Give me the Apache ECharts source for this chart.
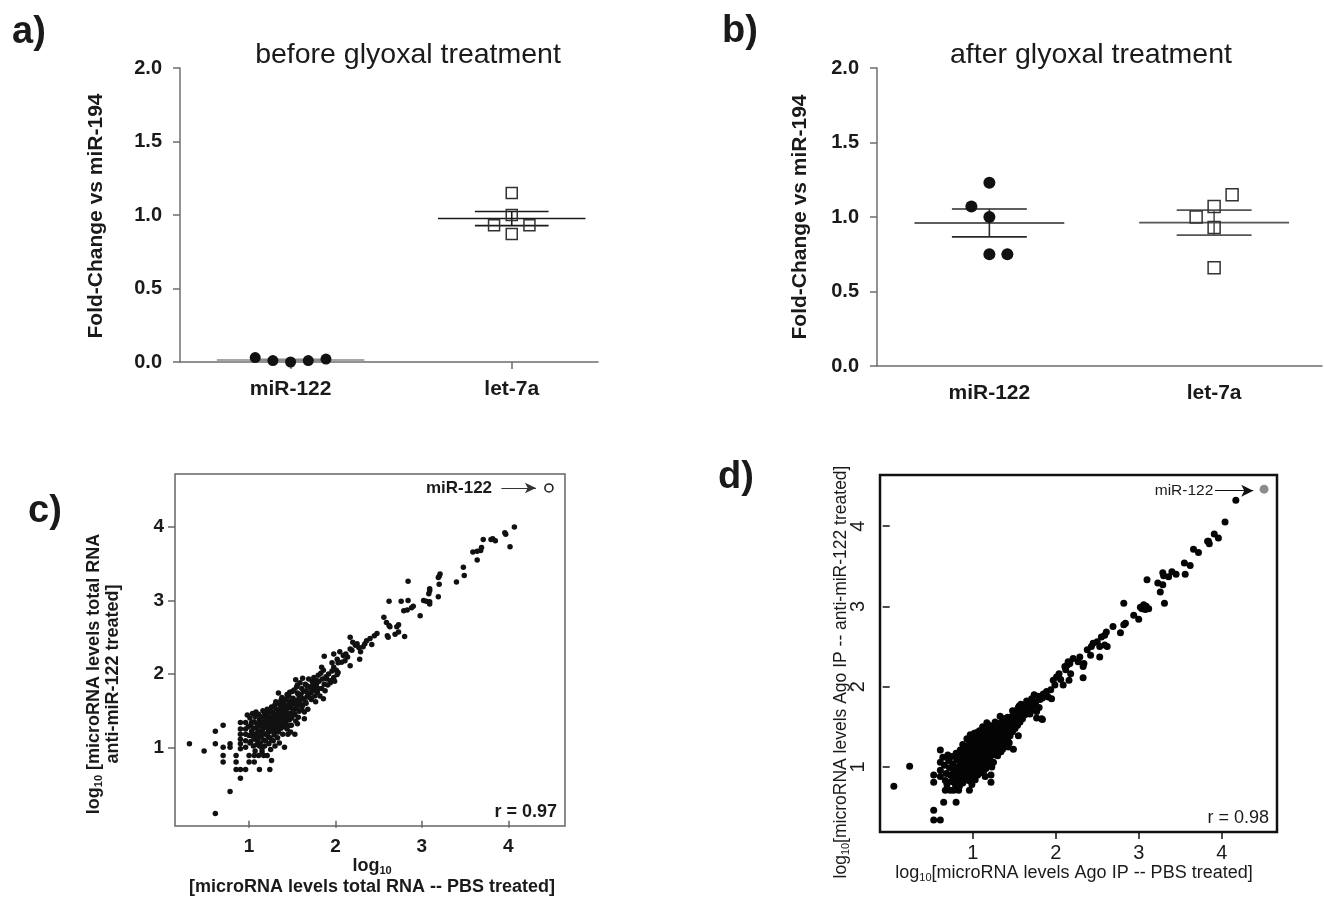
<!DOCTYPE html>
<html>
<head>
<meta charset="utf-8">
<script src="https://cdn.jsdelivr.net/npm/echarts@6/dist/echarts.min.js"></script>
<style>
  html, body { margin: 0; padding: 0; background: #fff; }
  #chart { width: 1324px; height: 898px; }
</style>
</head>
<body>
<div id="chart"></div>
<script>
const FONT = '"Liberation Sans", Arial, Helvetica, sans-serif'

// panels a/b: fold-change vs miR-194
const groups = ['miR-122', 'let-7a']
const beforeMiR122 = [0.03, 0.01, 0.0, 0.01, 0.02]
const beforeMiR122Jit = [-0.16, -0.08, 0, 0.08, 0.16]
const beforeLet7a = [1.15, 1.0, 0.93, 0.93, 0.87]
const beforeLet7aJit = [0, 0, -0.08, 0.08, 0]
const afterMiR122 = [1.23, 1.07, 1.0, 0.75, 0.75]
const afterMiR122Jit = [0, -0.08, 0, 0, 0.08]
const afterLet7a = [1.15, 1.07, 1.0, 0.93, 0.66]
const afterLet7aJit = [0.08, 0, -0.08, 0, 0]

// panel c: log10 total RNA, PBS (x) vs anti-miR-122 (y)
const logTicks = [1, 2, 3, 4]
const totalRnaMiR122 = [4.47, 4.53]
const totalRnaUpper = [
  [4.07,4.00],[3.96,3.92],[3.97,3.90],[4.02,3.73],[3.82,3.84],[3.85,3.81],[3.80,3.83],[3.71,3.83],
  [3.69,3.72],[3.68,3.68],[3.64,3.67],[3.59,3.66],[3.64,3.55],[3.48,3.45],[3.49,3.34],[3.40,3.25],
  [3.21,3.36],[3.20,3.33],[3.19,3.31],[3.20,3.22],[3.09,3.16],[3.09,3.13],[3.08,3.09],[3.19,3.05],
  [3.09,2.98],[3.09,2.95],[3.02,3.00],[3.05,2.99],[2.84,3.26],[2.62,2.99],[2.76,2.99],[2.84,3.00],
  [2.79,2.86],[2.88,2.90],[2.90,2.92],[2.83,2.87],[2.98,2.79],[2.56,2.77],[2.59,2.70],[2.62,2.66],
  [2.63,2.64],[2.73,2.67],[2.71,2.64],[2.60,2.52],[2.61,2.50],[2.73,2.57],[2.80,2.51],[2.69,2.54],
  [2.45,2.52],[2.48,2.55],[2.40,2.48],[2.42,2.40],[2.36,2.45],[2.34,2.41],[2.32,2.37],[2.17,2.50],
  [2.20,2.43],[2.23,2.39],[2.25,2.41],[2.27,2.36],[2.17,2.34],[2.19,2.32],[2.17,2.11],[2.29,2.30],
  [2.28,2.20],[2.05,2.30],[2.09,2.25],[2.12,2.27],[2.14,2.23],[2.11,2.18],[2.07,2.16],[1.98,2.27],
  [2.02,2.20],[2.03,2.15],[1.87,2.24],[1.96,2.15],[1.98,2.09],[2.01,2.05],[2.03,2.02],[2.02,1.99],
  [1.98,1.95],[1.95,1.91],[1.84,2.09],[1.86,2.05],[1.83,2.01],[1.80,1.98],[1.85,1.93],[1.87,1.86],
  [1.90,1.93],[1.75,1.95],[1.78,1.91],[1.76,1.86],[1.73,1.82],[1.74,1.77],[1.80,1.80]
]
const totalRnaLower = [
  [0.31,1.05],[0.48,0.95],[0.61,1.22],[0.61,1.05],[0.70,1.30],[0.70,1.00],[0.70,0.89],[0.70,0.80],
  [0.61,0.10],[0.78,0.40],[0.90,0.58],[0.85,0.70],[0.90,0.70],[0.96,0.70],[1.12,0.70],[1.24,0.70],
  [0.78,1.05],[0.78,1.00],[0.85,0.89],[0.85,0.80],[0.90,1.34],[0.90,1.25],[0.90,1.18],[0.90,1.11],
  [0.90,1.05],[0.90,0.98],[0.96,1.34],[0.96,1.25],[0.96,1.18],[0.96,1.09],[0.96,1.00],[1.00,0.89],
  [1.06,0.89],[1.11,0.89],[1.17,0.89],[1.21,0.89],[1.00,0.80],[1.06,0.80],[1.26,0.82],[1.41,1.00]
]
const totalRnaCluster = [
  [1.01,1.40],[1.02,1.30],[1.03,1.22],[1.04,1.15],[1.02,1.08],[1.05,1.02],[1.07,0.95],[1.08,1.48],
  [1.06,1.35],[1.09,1.26],[1.08,1.18],[1.10,1.10],[1.09,1.04],[1.04,1.46],[1.07,1.11],
  [1.11,1.45],[1.12,1.38],[1.13,1.30],[1.12,1.22],[1.14,1.15],[1.13,1.06],[1.15,0.98],[1.16,1.50],
  [1.17,1.41],[1.18,1.33],[1.16,1.25],[1.19,1.18],[1.17,1.10],[1.18,1.02],[1.15,0.94],[1.20,1.47],
  [1.19,1.29],[1.14,1.35],
  [1.21,1.52],[1.22,1.44],[1.21,1.36],[1.23,1.28],[1.22,1.21],[1.24,1.13],[1.23,1.05],[1.25,0.97],
  [1.26,1.55],[1.27,1.48],[1.26,1.40],[1.28,1.32],[1.27,1.24],[1.29,1.17],[1.28,1.09],[1.30,1.58],
  [1.29,1.38],[1.25,1.30],[1.30,1.02],
  [1.31,1.62],[1.32,1.52],[1.31,1.45],[1.33,1.37],[1.32,1.29],[1.34,1.21],[1.33,1.13],[1.35,1.06],
  [1.36,1.58],[1.37,1.50],[1.36,1.42],[1.38,1.34],[1.37,1.26],[1.39,1.18],[1.38,1.68],[1.40,1.55],
  [1.39,1.46],[1.35,1.32],[1.34,1.74],
  [1.41,1.64],[1.42,1.57],[1.41,1.49],[1.43,1.41],[1.42,1.33],[1.44,1.25],[1.45,1.18],[1.46,1.70],
  [1.47,1.62],[1.46,1.54],[1.48,1.46],[1.47,1.38],[1.49,1.30],[1.50,1.76],[1.49,1.58],[1.45,1.45],
  [1.44,1.72],[1.48,1.21],
  [1.51,1.67],[1.52,1.60],[1.53,1.52],[1.52,1.44],[1.54,1.36],[1.55,1.82],[1.56,1.74],[1.57,1.65],
  [1.56,1.57],[1.58,1.49],[1.57,1.41],[1.59,1.88],[1.60,1.72],[1.59,1.60],[1.54,1.92],[1.53,1.18],
  [1.56,1.32],
  [1.61,1.80],[1.62,1.94],[1.63,1.66],[1.62,1.57],[1.64,1.48],[1.65,1.86],[1.66,1.77],[1.67,1.69],
  [1.66,1.60],[1.68,1.52],[1.69,1.93],[1.70,1.82],[1.64,1.39],
  [1.71,1.74],[1.72,1.65],[1.73,1.90],[1.75,1.79],[1.76,1.70],[1.77,1.62],[1.78,1.86],[1.79,1.75],
  [1.81,1.90],[1.82,1.70],[1.84,1.80],[1.86,1.66],[1.88,1.77],[1.89,1.96],
  [1.91,1.85],[1.92,2.00],[1.94,1.88],[1.96,2.04],[1.99,1.90]
]
const totalRnaCore = [
  [0.98,1.44],[0.99,1.28],[1.00,1.16],[1.01,1.06],[1.03,1.34],[1.05,1.26],[1.06,1.18],[1.07,1.42],
  [1.09,1.32],[1.10,1.20],[1.11,1.13],[1.12,1.02],[1.13,1.42],[1.15,1.28],[1.16,1.19],[1.17,1.34],
  [1.18,1.46],[1.19,1.09],[1.20,1.38],[1.21,1.27],[1.22,1.15],[1.23,1.40],[1.24,1.33],[1.24,1.49],
  [1.25,1.22],[1.26,1.10],[1.27,1.35],[1.28,1.44],[1.28,1.55],[1.29,1.28],[1.30,1.20],[1.31,1.35],
  [1.32,1.43],[1.32,1.60],[1.33,1.24],[1.34,1.48],[1.35,1.40],[1.36,1.30],[1.37,1.55],[1.37,1.64],
  [1.38,1.42],[1.39,1.30],[1.40,1.37],[1.40,1.62],[1.41,1.28],[1.42,1.45],[1.43,1.52],[1.43,1.66],
  [1.44,1.37],[1.45,1.58],[1.46,1.46],[1.47,1.30],[1.47,1.75],[1.48,1.54],[1.49,1.40],[1.50,1.66],
  [1.51,1.52],[1.52,1.78],[1.53,1.45],[1.54,1.62],[1.55,1.55],[1.56,1.85],[1.57,1.72],[1.58,1.58],
  [1.60,1.66],[1.61,1.52],[1.63,1.76],[1.65,1.62],[1.67,1.84],[1.68,1.74],[1.70,1.68],[1.72,1.80],
  [1.74,1.86],[1.77,1.80]
]

// panel d: log10 Ago IP, PBS (x) vs anti-miR-122 (y)
const agoMiR122 = [4.51, 4.46]
const agoUpper = [
  [4.17,4.32],[4.04,4.05],[3.96,3.85],[3.91,3.90],[3.84,3.81],[3.85,3.78],[3.83,3.81],[3.72,3.67],
  [3.66,3.71],[3.62,3.51],[3.55,3.54],[3.56,3.40],[3.45,3.40],[3.40,3.43],[3.36,3.37],[3.29,3.42],
  [3.30,3.38],[3.23,3.29],[3.29,3.27],[3.26,3.18],[3.31,3.04],[3.10,3.33],[3.06,3.02],[3.09,3.00],
  [3.12,2.97],[3.08,2.96],[3.04,2.97],[3.02,2.99],[3.00,2.84],[2.94,2.89],[2.82,3.04],[2.84,2.79],
  [2.82,2.77],[2.78,2.67],[2.69,2.75],[2.61,2.68],[2.59,2.64],[2.55,2.62],[2.62,2.50],[2.59,2.52],
  [2.53,2.50],[2.50,2.56],[2.45,2.54],[2.43,2.50],[2.38,2.46],[2.42,2.39],[2.53,2.37],[2.29,2.37],
  [2.27,2.31],[2.34,2.29],[2.33,2.25],[2.33,2.11],[2.21,2.35],[2.17,2.29],[2.14,2.27],[2.11,2.25],
  [2.15,2.31],[2.12,2.21],[2.18,2.16],[2.16,2.08],[2.04,2.16],[2.01,2.12],[1.97,2.08],[1.99,2.02],
  [2.06,2.09],[2.09,2.02],[1.94,1.96],[1.89,1.94],[1.85,1.91],[1.84,1.86],[1.91,1.87],[1.95,1.85],
  [1.83,1.60],[1.81,1.84],[1.76,1.81],[1.73,1.77],[1.70,1.75],[1.72,1.71],[1.77,1.69],[1.67,1.69],
  [1.77,1.61],[1.84,1.59]
]
const agoLower = [
  [0.05,0.76],[0.24,1.01],[0.53,0.46],[0.53,0.34],[0.61,0.34],[0.65,0.56],[0.80,0.56],[0.53,0.90],
  [0.53,0.81],[0.61,1.21],[0.61,1.06],[0.61,0.96],[0.61,0.88],[0.67,0.71],[0.73,0.71],[0.77,0.71],
  [0.83,0.71],[0.96,0.71],[1.22,0.90],[1.22,0.81],[1.17,1.55],[1.49,1.22],[1.55,1.39],[1.43,1.25]
]
const agoCluster = [
  [0.64,1.12],[0.66,1.02],[0.68,0.92],[0.67,0.83],[0.70,1.15],[0.69,0.78],
  [0.71,1.08],[0.72,0.99],[0.73,0.90],[0.74,0.82],[0.75,1.13],[0.76,1.04],[0.77,0.95],[0.78,0.86],
  [0.79,0.78],[0.80,1.17],
  [0.81,1.09],[0.82,1.00],[0.83,0.92],[0.84,0.83],[0.85,1.21],[0.86,1.13],[0.87,1.04],[0.88,0.96],
  [0.89,0.87],[0.90,1.25],[0.84,0.76],[0.88,1.28],
  [0.91,1.17],[0.92,1.08],[0.93,1.00],[0.94,0.91],[0.95,0.83],[0.96,1.30],[0.97,1.21],[0.98,1.12],
  [0.99,1.04],[1.00,0.95],[0.93,1.35],[0.97,0.87],[0.99,0.78],
  [1.01,1.33],[1.02,1.25],[1.03,1.16],[1.04,1.07],[1.05,0.99],[1.06,0.90],[1.07,1.38],[1.08,1.29],
  [1.09,1.20],[1.10,1.11],[1.03,0.84],[1.08,1.02],[1.05,1.43],[1.10,0.93],[1.02,0.97],[1.06,1.22],
  [1.00,1.12],[1.04,1.30],
  [1.11,1.42],[1.12,1.33],[1.13,1.25],[1.14,1.16],[1.15,1.07],[1.16,0.98],[1.17,1.46],[1.18,1.37],
  [1.19,1.29],[1.20,1.20],[1.12,1.50],[1.15,0.88],[1.18,1.10],[1.14,1.02],[1.11,1.20],
  [1.21,1.42],[1.22,1.33],[1.23,1.24],[1.24,1.15],[1.25,1.06],[1.26,1.50],[1.27,1.41],[1.28,1.32],
  [1.29,1.23],[1.30,1.14],[1.23,1.00],[1.27,1.56],[1.25,1.36],
  [1.31,1.47],[1.32,1.38],[1.33,1.28],[1.34,1.19],[1.35,1.55],[1.36,1.46],[1.37,1.37],[1.38,1.28],
  [1.39,1.60],[1.40,1.51],[1.33,1.63],[1.36,1.22],
  [1.41,1.42],[1.42,1.33],[1.43,1.56],[1.44,1.48],[1.45,1.39],[1.46,1.62],[1.47,1.53],[1.48,1.44],
  [1.49,1.66],[1.50,1.57],[1.44,1.30],
  [1.51,1.48],[1.52,1.70],[1.53,1.61],[1.54,1.52],[1.55,1.74],[1.56,1.65],[1.57,1.56],[1.58,1.78],
  [1.59,1.69],[1.60,1.60],
  [1.62,1.74],[1.63,1.65],[1.65,1.82],[1.66,1.72],[1.68,1.80],[1.69,1.66],[1.71,1.85],[1.74,1.90],
  [1.79,1.88],[1.80,1.74]
]
const agoCore = [
  [0.78,1.00],[0.80,0.92],[0.82,1.14],[0.83,0.85],[0.85,1.05],[0.86,0.96],[0.87,1.18],[0.88,0.80],
  [0.89,1.10],[0.90,1.00],[0.91,0.90],[0.92,1.24],[0.93,1.14],[0.94,1.05],[0.95,0.96],[0.96,1.18],
  [0.97,1.40],[0.97,1.02],[0.98,0.92],[0.99,1.26],[1.00,1.36],[1.00,1.06],[1.01,0.88],[1.01,1.20],
  [1.02,1.42],[1.03,1.10],[1.04,0.94],[1.05,1.25],[1.06,1.05],[1.07,1.15],[1.07,0.96],[1.08,1.45],
  [1.09,1.35],[1.09,0.98],[1.10,1.26],[1.11,1.06],[1.12,1.16],[1.13,1.38],[1.13,0.94],[1.14,1.28],
  [1.15,1.48],[1.16,1.20],[1.16,1.10],[1.17,1.32],[1.18,1.02],[1.19,1.42],[1.19,1.14],[1.20,1.52],
  [1.21,1.26],[1.21,1.08],[1.22,1.38],[1.23,1.18],[1.24,1.46],[1.25,1.28],[1.26,1.20],[1.27,1.34],
  [1.28,1.48],[1.29,1.16],[1.30,1.40],[1.31,1.28],[1.32,1.54],[1.33,1.44],[1.34,1.34],[1.35,1.26],
  [1.36,1.60],[1.37,1.50],[1.38,1.40],[1.39,1.34],[1.41,1.54],[1.42,1.62],[1.43,1.44],[1.45,1.52],
  [1.47,1.60],[1.48,1.70],[1.50,1.64],[1.52,1.56],[1.54,1.66],[1.56,1.76],[1.58,1.64],[1.61,1.70],
  [1.64,1.78]
]

function meanSem (v) {
  const n = v.length
  const m = v.reduce((a, b) => a + b, 0) / n
  const sd = Math.sqrt(v.reduce((a, b) => a + (b - m) * (b - m), 0) / (n - 1))
  return [m, sd / Math.sqrt(n)]
}
const jitter = (vals, offs, center) => vals.map((v, i) => [center + offs[i], v])

// mean line (wide) + SEM lines (narrow) + connector
function statItem (params, api) {
  const cx = api.value(0), m = api.value(1), s = api.value(2)
  const color = api.visual('color')
  const seg = (x1, y1, x2, y2) => {
    const p1 = api.coord([x1, y1]), p2 = api.coord([x2, y2])
    return { type: 'line', shape: { x1: p1[0], y1: p1[1], x2: p2[0], y2: p2[1] },
      style: { stroke: color, lineWidth: 1.6 } }
  }
  return { type: 'group', children: [
    seg(cx - 1 / 3, m, cx + 1 / 3, m),
    seg(cx - 1 / 6, m + s, cx + 1 / 6, m + s),
    seg(cx - 1 / 6, m - s, cx + 1 / 6, m - s),
    seg(cx, m - s, cx, m + s)
  ] }
}
function statSeries (idx, a, b, colA, colB) {
  return {
    type: 'custom', xAxisIndex: idx, yAxisIndex: idx, renderItem: statItem, silent: true, z: 1,
    encode: { x: 0, y: 1 },
    data: [
      { value: [1].concat(meanSem(a)), itemStyle: { color: colA } },
      { value: [2].concat(meanSem(b)), itemStyle: { color: colB } }
    ]
  }
}

const grayAxis = { lineStyle: { color: '#6e6e6e', width: 1.5 } }
function foldYAxis (idx) {
  return {
    type: 'value', gridIndex: idx, min: 0, max: 2, interval: 0.5,
    axisLine: { show: true, ...grayAxis }, splitLine: { show: false },
    axisTick: { length: 7, ...grayAxis },
    axisLabel: { margin: 18, fontFamily: FONT, fontWeight: 'bold', fontSize: 20, color: '#1a1a1a',
      formatter: v => v.toFixed(1) }
  }
}
function groupXAxis (idx, max, ticks) {
  return {
    type: 'value', gridIndex: idx, min: 0.5, max: max,
    axisLine: { show: true, ...grayAxis }, splitLine: { show: false },
    axisTick: { show: ticks, length: 7, customValues: [1, 2], ...grayAxis },
    axisLabel: { customValues: [1, 2], margin: 17, fontFamily: FONT, fontWeight: 'bold', fontSize: 21,
      color: '#1a1a1a', formatter: v => groups[Math.round(v) - 1] || '' }
  }
}
function logAxis (idx, min, max, color, bold, rotate) {
  return {
    type: 'value', gridIndex: idx, min: min, max: max,
    axisLine: { show: false }, splitLine: { show: false },
    axisTick: { customValues: logTicks, length: 7, lineStyle: { color: color, width: 1.5 } },
    axisLabel: { customValues: logTicks, margin: rotate ? 12 : 11, rotate: rotate || 0,
      fontFamily: FONT, fontWeight: bold ? 'bold' : 'normal', fontSize: bold ? 19 : 20, color: '#1a1a1a' }
  }
}

const txt = (x, y, text, size, weight, extra) => ({
  type: 'text', x: x, y: y, silent: true, rotation: (extra && extra.rotation) || 0,
  style: Object.assign({ text: text, font: `${weight} ${size}px ${FONT}`, fill: '#1a1a1a',
    align: 'center', verticalAlign: 'middle', textAlign: 'center', textVerticalAlign: 'middle' },
  extra && extra.style)
})
const richFor = (size, subSize, weight) => ({
  sub: { fontSize: subSize, fontWeight: weight, fontFamily: FONT, fill: '#1a1a1a', padding: [9, 0, 0, 0] },
  n: { fontSize: size, fontWeight: weight, fontFamily: FONT, fill: '#1a1a1a' }
})

const chart = echarts.init(document.getElementById('chart'))
chart.setOption({
  animation: false,
  backgroundColor: '#fff',
  grid: [
    { left: 180, top: 68, width: 418, height: 294 },
    { left: 877, top: 68, width: 445, height: 298 },
    { left: 175, top: 474, width: 390, height: 352, show: true, borderColor: '#666', borderWidth: 1.5 },
    { left: 880, top: 475, width: 397, height: 357, show: true, borderColor: '#111', borderWidth: 2.5 }
  ],
  xAxis: [
    groupXAxis(0, 2.39, true),
    groupXAxis(1, 2.48, false),
    logAxis(2, 0.143, 4.656, '#666', true),
    logAxis(3, -0.117, 4.666, '#111', false)
  ],
  yAxis: [
    foldYAxis(0),
    foldYAxis(1),
    logAxis(2, -0.07, 4.72, '#666', true),
    logAxis(3, 0.19, 4.636, '#111', false, 90)
  ],
  series: [
    statSeries(0, beforeMiR122, beforeLet7a, '#8a8a8a', '#1a1a1a'),
    { type: 'scatter', xAxisIndex: 0, yAxisIndex: 0, symbol: 'circle', symbolSize: 11, z: 3,
      itemStyle: { color: '#111', opacity: 1 }, data: jitter(beforeMiR122, beforeMiR122Jit, 1) },
    { type: 'scatter', xAxisIndex: 0, yAxisIndex: 0, symbol: 'rect', symbolSize: 11, z: 3,
      itemStyle: { color: 'rgba(0,0,0,0)', borderColor: '#333', borderWidth: 1.5, opacity: 1 },
      data: jitter(beforeLet7a, beforeLet7aJit, 2) },
    statSeries(1, afterMiR122, afterLet7a, '#2a2a2a', '#555'),
    { type: 'scatter', xAxisIndex: 1, yAxisIndex: 1, symbol: 'circle', symbolSize: 12, z: 3,
      itemStyle: { color: '#111', opacity: 1 }, data: jitter(afterMiR122, afterMiR122Jit, 1) },
    { type: 'scatter', xAxisIndex: 1, yAxisIndex: 1, symbol: 'rect', symbolSize: 12, z: 3,
      itemStyle: { color: 'rgba(0,0,0,0)', borderColor: '#333', borderWidth: 1.5, opacity: 1 },
      data: jitter(afterLet7a, afterLet7aJit, 2) },
    { type: 'scatter', xAxisIndex: 2, yAxisIndex: 2, symbolSize: 5.5, itemStyle: { color: '#111', opacity: 1 },
      data: totalRnaUpper.concat(totalRnaCluster, totalRnaCore, totalRnaLower) },
    { type: 'scatter', xAxisIndex: 2, yAxisIndex: 2, symbol: 'circle', symbolSize: 8,
      itemStyle: { color: '#fff', borderColor: '#222', borderWidth: 1.6, opacity: 1 }, data: [totalRnaMiR122],
      markLine: { silent: true, symbol: ['none', 'arrow'], symbolSize: [8, 11], label: { show: false },
        lineStyle: { color: '#333', width: 1, type: 'solid' },
        data: [[{ coord: [3.92, 4.53] }, { coord: [4.32, 4.53] }]] } },
    { type: 'scatter', xAxisIndex: 3, yAxisIndex: 3, symbolSize: 7, itemStyle: { color: '#050505', opacity: 1 },
      data: agoUpper.concat(agoCluster, agoCore, agoLower) },
    { type: 'scatter', xAxisIndex: 3, yAxisIndex: 3, symbol: 'circle', symbolSize: 9,
      itemStyle: { color: '#8c8c8c', opacity: 1 }, data: [agoMiR122],
      markLine: { silent: true, symbol: ['none', 'arrow'], symbolSize: [9, 12], label: { show: false },
        lineStyle: { color: '#111', width: 1, type: 'solid' },
        data: [[{ coord: [3.92, 4.44] }, { coord: [4.38, 4.44] }]] } }
  ],
  graphic: [
    txt(29, 33, 'a)', 38, 'bold'),
    txt(740, 32, 'b)', 38, 'bold'),
    txt(45, 512, 'c)', 38, 'bold'),
    txt(736, 478, 'd)', 38, 'bold'),
    txt(408, 55, 'before glyoxal treatment', 28.5, 'normal'),
    txt(1091, 55, 'after glyoxal treatment', 28.5, 'normal'),
    txt(96, 216, 'Fold-Change vs miR-194', 21, 'bold', { rotation: Math.PI / 2 }),
    txt(800, 217, 'Fold-Change vs miR-194', 21, 'bold', { rotation: Math.PI / 2 }),
    // panel c axis titles
    txt(104, 674, '{n|log}{sub|10}{n| [microRNA levels total RNA}\n{n|anti-miR-122 treated]}', 18, 'bold',
      { rotation: Math.PI / 2, style: { rich: richFor(18, 11, 'bold'), lineHeight: 19 } }),
    txt(372, 877, '{n|log}{sub|10}\n{n|[microRNA levels total RNA -- PBS treated]}', 18, 'bold',
      { style: { rich: richFor(18, 11, 'bold'), lineHeight: 21 } }),
    // panel c annotations
    txt(459, 488, 'miR-122', 17, 'bold'),
    txt(557, 812, 'r = 0.97', 18, 'bold', { style: { align: 'right', textAlign: 'right' } }),
    // panel d axis titles
    txt(841, 672, '{n|log}{sub|10}{n|[microRNA levels Ago IP -- anti-miR-122 treated]}', 17.5, 'normal',
      { rotation: Math.PI / 2, style: { rich: richFor(17.5, 11, 'normal') } }),
    txt(1074, 873, '{n|log}{sub|10}{n|[microRNA levels Ago IP -- PBS treated]}', 18, 'normal',
      { style: { rich: richFor(18, 11, 'normal') } }),
    txt(1184, 491, 'miR-122', 15.5, 'normal'),
    txt(1269, 818, 'r = 0.98', 18, 'normal', { style: { align: 'right', textAlign: 'right' } })
  ]
})
</script>
</body>
</html>
